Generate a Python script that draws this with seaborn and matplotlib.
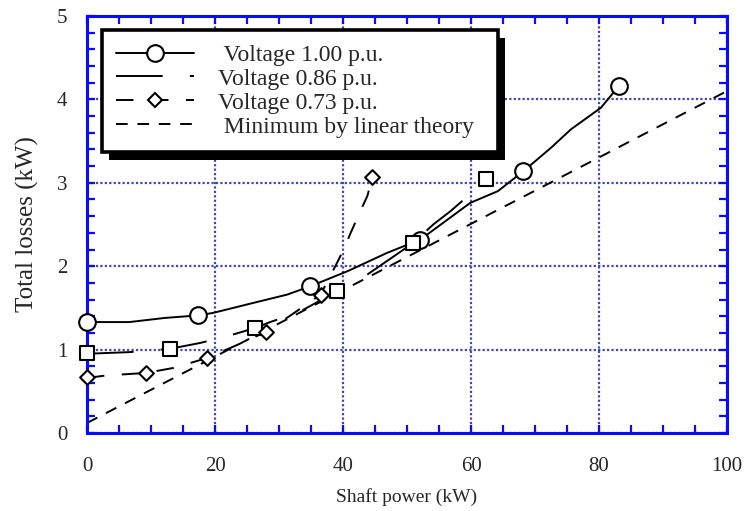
import numpy as np
import matplotlib
matplotlib.use("Agg")
import matplotlib.pyplot as plt
from matplotlib.lines import Line2D
from matplotlib.patches import Rectangle
from matplotlib.transforms import IdentityTransform
import seaborn as sns

# === data ===
v100_x = [0, 6.6, 12.2, 17.4, 19.7, 26, 31.3, 34.9, 40.7, 46.9, 52.1, 59.9, 64.2, 68.2, 72.5, 75.6, 80.3, 83.1]
v100_y = [1.33, 1.33, 1.38, 1.41, 1.44, 1.56, 1.66, 1.76, 1.94, 2.16, 2.32, 2.76, 2.90, 3.14, 3.42, 3.64, 3.90, 4.16]
v100_mx = [0, 17.4, 34.9, 52.1, 68.2, 83.1]
v100_my = [1.33, 1.41, 1.76, 2.32, 3.14, 4.16]

v086_x = [0, 6.7, 13, 17.7, 21.9, 26.3, 28.6, 32.9, 39.1, 43.8, 51, 54.1, 56.8, 60.4, 62.4]
v086_y = [0.95, 0.97, 1.01, 1.08, 1.16, 1.26, 1.33, 1.44, 1.70, 1.90, 2.28, 2.50, 2.66, 2.90, 3.04]
v086_mx = [0, 13, 26.3, 39.1, 51, 62.4]
v086_my = [0.96, 1.01, 1.26, 1.70, 2.28, 3.04]

v073_x = [0, 3, 9.2, 13.5, 18.8, 23, 27.9, 32, 36.5, 38.8, 40.1, 41.2, 42.7, 43.8, 44.6]
v073_y = [0.66, 0.69, 0.72, 0.78, 0.90, 1.04, 1.21, 1.42, 1.66, 2.00, 2.20, 2.40, 2.66, 2.84, 3.07]
v073_mx = [0, 9.2, 18.8, 27.9, 36.5, 44.6]
v073_my = [0.67, 0.72, 0.90, 1.21, 1.66, 3.07]

theory_x = [0, 100]
theory_y = [0.12, 4.10]

labels = [" Voltage 1.00 p.u.", "Voltage 0.86 p.u.", "Voltage 0.73 p.u.", " Minimum by linear theory"]

# === style ===
sns.set_style("ticks")
plt.rcParams['font.family'] = ['Liberation Serif', 'DejaVu Serif']
BLUE = "#0a0aff"
GRID = "#4646ae"
LW = 1.4
dash086 = (0, (24, 14))
dash073 = (0, (9, 9))
dashth = (0, (6, 5))

fig = plt.figure(figsize=(7.55, 5.11), dpi=100)
ax = fig.add_axes([87 / 755, 1 - 433 / 511, 640 / 755, 417 / 511])

# === lines ===
sns.lineplot(x=v100_x, y=v100_y, sort=False, errorbar=None, color="k", lw=LW, ax=ax)
sns.lineplot(x=v086_x, y=v086_y, sort=False, errorbar=None, color="k", lw=LW, linestyle=dash086, ax=ax)
sns.lineplot(x=v073_x, y=v073_y, sort=False, errorbar=None, color="k", lw=LW, linestyle=dash073, ax=ax)
sns.lineplot(x=theory_x, y=theory_y, sort=False, errorbar=None, color="k", lw=LW, linestyle=dashth, ax=ax)

# === markers ===
sns.scatterplot(x=v100_mx, y=v100_my, marker="o", s=12 ** 2, facecolor="white",
                edgecolor="k", linewidth=1.5, zorder=4, ax=ax, clip_on=False)
sns.scatterplot(x=v086_mx, y=v086_my, marker="s", s=10 ** 2, facecolor="white",
                edgecolor="k", linewidth=1.5, zorder=4, ax=ax, clip_on=False)
sns.scatterplot(x=v073_mx, y=v073_my, marker="D", s=7.5 ** 2, facecolor="white",
                edgecolor="k", linewidth=1.5, zorder=4, ax=ax, clip_on=False)

# === axes ===
ax.set_xlim(0, 100)
ax.set_ylim(0, 5)
ax.set_xticks(np.arange(0, 101, 20))
ax.set_xticks(np.arange(0, 101, 5), minor=True)
ax.set_yticks(np.arange(0, 6, 1))
ax.set_yticks(np.arange(0, 5.01, 0.2), minor=True)
ax.grid(True, which="major", color=GRID, linestyle=(0, (1, 1)), lw=1.6)
for s in ax.spines.values():
    s.set_color(BLUE)
    s.set_linewidth(2.2)
ax.tick_params(which="both", direction="in", color=BLUE, width=1.6,
               top=True, right=True, labelsize=15)
ax.tick_params(which="major", length=6)
ax.tick_params(which="minor", length=6)
ax.tick_params(axis="x", which="major", pad=17)
ax.tick_params(axis="y", which="major", pad=14)
ax.set_xlabel("Shaft power (kW)", fontsize=14, labelpad=9)
ax.set_ylabel("Total losses (kW)", fontsize=18, labelpad=13)

# === legend ===
handles = [
    Line2D([], [], color="k", lw=LW, marker="o", ms=12, mfc="white", mec="k", mew=1.5),
    Line2D([], [], color="k", lw=LW, linestyle=dash086),
    Line2D([], [], color="k", lw=LW, linestyle=dash073, marker="D", ms=7.5, mfc="white", mec="k", mew=1.5),
    Line2D([], [], color="k", lw=LW, linestyle=dashth),
]
leg = ax.legend(handles, labels, loc="upper left",
                bbox_to_anchor=(0.0234, 0.679, 0.619, 0.287), mode="expand",
                borderaxespad=0, fontsize=17, handlelength=3.3, handletextpad=1.0,
                labelspacing=0.1, borderpad=0.6, numpoints=1,
                fancybox=False, framealpha=1, edgecolor="k")
leg.get_frame().set_linewidth(2.6)
leg.set_zorder(6)

# black drop shadow under the legend box
fig.canvas.draw()
bb = leg.get_frame().get_window_extent(fig.canvas.get_renderer())
ax.add_patch(Rectangle((bb.x0 + 7, bb.y0 - 8), bb.width, bb.height, transform=IdentityTransform(),
                       facecolor="k", edgecolor="none", zorder=5.9, clip_on=False))

fig.savefig("out.png", dpi=100)
